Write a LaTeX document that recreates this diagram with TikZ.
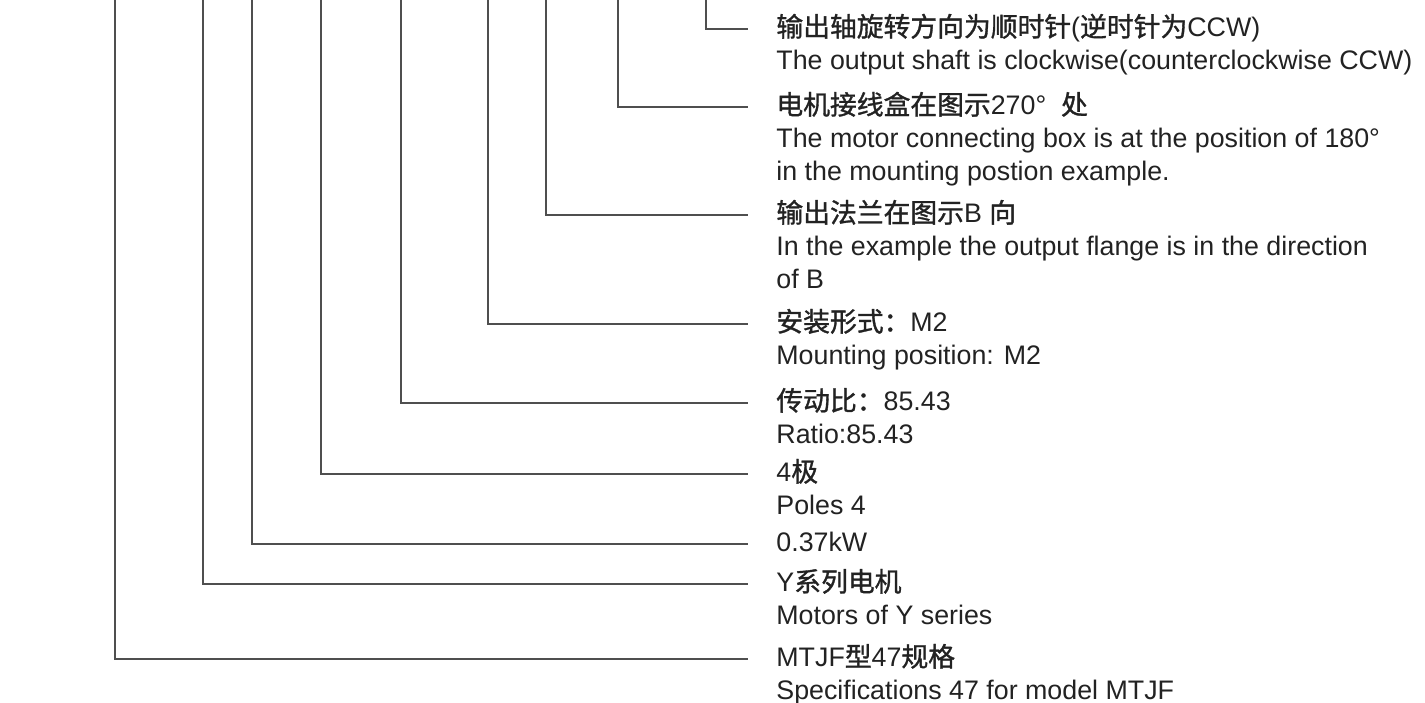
\documentclass[tikz,border=0pt]{standalone}
\usepackage{fontspec}
\setmainfont{Liberation Sans}
\newfontfamily\cjk{Noto Sans CJK SC}[FakeBold=1.2]
\usetikzlibrary{positioning,calc}
\newcommand{\zh}[1]{{\cjk #1}}
\definecolor{leadgray}{HTML}{4F4F4F}
\definecolor{ink}{HTML}{222222}

\begin{document}
\begin{tikzpicture}[x=0.5pt, y=-0.5pt, node distance=16.6pt, font=\fontsize{13.4pt}{16.6pt}\selectfont]
        \tikzstyle{every node}=[text=ink, inner sep=0pt]
        \tikzstyle{zhline}=[anchor=base west, text height=0.88em, text depth=0.12em]
        \tikzstyle{enline}=[anchor=base west]
        \tikzstyle{leader}=[draw=leadgray, line width=1.1pt, shorten >=14pt, to path={|- (\tikztotarget)}]

        \useasboundingbox (0,0) rectangle (1425,702);

        \node[zhline]   (rot)     at (776,36.5)  {\zh{输出轴旋转方向为顺时针}(\zh{逆时针为}CCW)};
        \node[enline]   (rotE)    [below=of rot.base west, enline]     {The output shaft is clockwise(counterclockwise CCW)};
        \node[zhline]   (box)     at (776,114.5) {\zh{电机接线盒在图示}270°\ \ \zh{处}};
        \node[enline]   (boxE)    [below=of box.base west, enline]     {The motor connecting box is at the position of 180°};
        \node[enline]   (boxEE)   [below=of boxE.base west, enline]    {in the mounting postion example.};
        \node[zhline]   (flange)  at (776,222.5) {\zh{输出法兰在图示}B \zh{向}};
        \node[enline]   (flangeE) [below=of flange.base west, enline]  {In the example the output flange is in the direction};
        \node[enline]   (flangeEE)[below=of flangeE.base west, enline] {of B};
        \node[zhline]   (mount)   at (776,331.5) {\zh{安装形式：}M2};
        \node[enline]   (mountE)  [below=of mount.base west, enline]   {Mounting position: M2};
        \node[zhline]   (ratio)   at (776,410.5) {\zh{传动比：}85.43};
        \node[enline]   (ratioE)  [below=of ratio.base west, enline]   {Ratio:85.43};
        \node[zhline]   (poles)   at (776,481.5) {4\zh{极}};
        \node[enline]   (polesE)  [below=of poles.base west, enline]   {Poles 4};
        \node[zhline]   (power)   at (776,551.5) {0.37kW};
        \node[zhline]   (motor)   at (776,591.5) {Y\zh{系列电机}};
        \node[enline]   (motorE)  [below=of motor.base west, enline]   {Motors of Y series};
        \node[zhline]   (spec)    at (776,666.5) {MTJF\zh{型}47\zh{规格}};
        \node[enline]   (specE)   [below=of spec.base west, enline]    {Specifications 47 for model MTJF};

        % free ends at the top edge
        \coordinate (rotT)    at (706,0);
        \coordinate (boxT)    at (618,0);
        \coordinate (flangeT) at (546,0);
        \coordinate (mountT)  at (488,0);
        \coordinate (ratioT)  at (401,0);
        \coordinate (polesT)  at (321,0);
        \coordinate (powerT)  at (252,0);
        \coordinate (motorT)  at (203,0);
        \coordinate (specT)   at (115,0);

        \path
            (rotT)    edge[leader] (rot.west)
            (boxT)    edge[leader] (box.west)
            (flangeT) edge[leader] (flange.west)
            (mountT)  edge[leader] (mount.west)
            (ratioT)  edge[leader] (ratio.west)
            (polesT)  edge[leader] (poles.west)
            (powerT)  edge[leader] (power.west)
            (motorT)  edge[leader] (motor.west)
            (specT)   edge[leader] (spec.west)
        ;
    \end{tikzpicture}
\end{document}
